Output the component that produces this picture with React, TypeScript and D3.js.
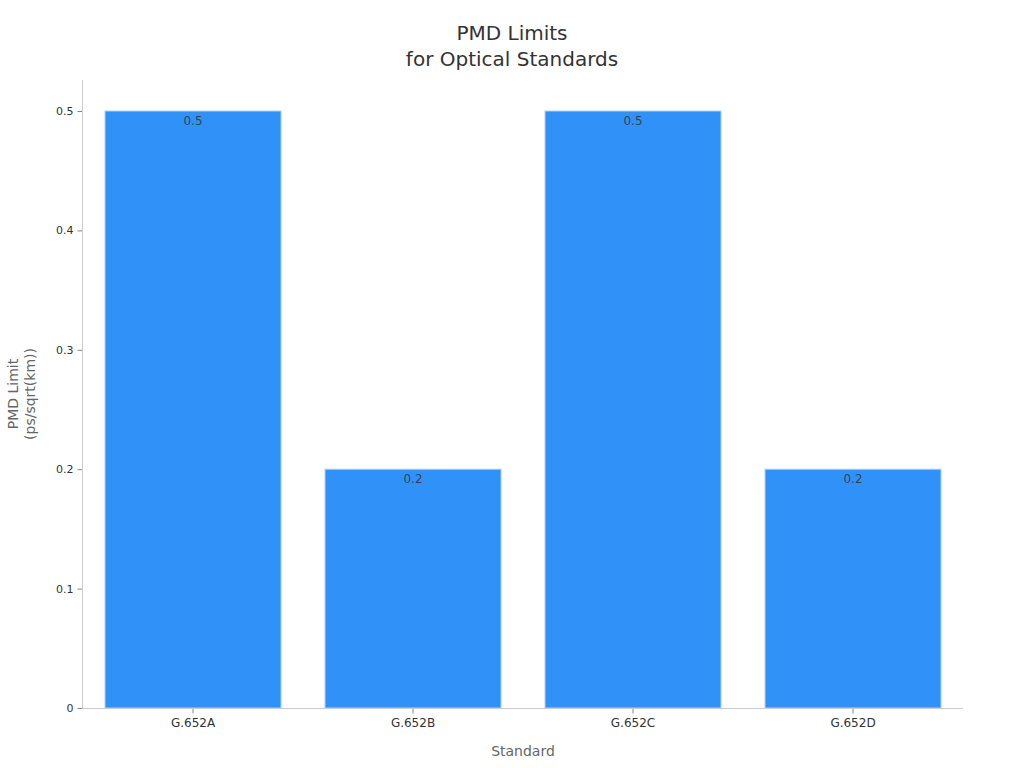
import React, { useEffect, useRef } from 'react';
import * as d3 from 'd3';

const standards = ['G.652A', 'G.652B', 'G.652C', 'G.652D'];
const pmdLimits = [0.5, 0.2, 0.5, 0.2];
const yTicks = [0, 0.1, 0.2, 0.3, 0.4, 0.5];

const WIDTH = 1024;
const HEIGHT = 768;
const margin = { top: 80, right: 61, bottom: 60, left: 83 };
const FONT = '"DejaVu Sans", sans-serif';

const App = () => {
  const svgRef = useRef<SVGSVGElement>(null);

  useEffect(() => {
    if (!svgRef.current) return;
    const svg = d3.select(svgRef.current);
    svg.selectAll('*').remove();

    const x = d3.scaleBand<string>()
      .domain(standards)
      .range([margin.left, WIDTH - margin.right])
      .paddingInner(0.2)
      .paddingOuter(0.1);

    const y = d3.scaleLinear()
      .domain([0, 0.5])
      .range([708, 111]);

    // title
    const title = svg.append('text')
      .attr('x', 512)
      .attr('text-anchor', 'middle')
      .style('font-family', FONT)
      .style('font-size', '20px')
      .attr('fill', '#333');
    title.append('tspan').attr('x', 512).attr('y', 40).text('PMD Limits');
    title.append('tspan').attr('x', 512).attr('y', 66).text('for Optical Standards');

    // bars
    svg.append('g')
      .selectAll('rect')
      .data(pmdLimits)
      .join('rect')
      .attr('x', (_, i) => x(standards[i])!)
      .attr('y', d => y(d))
      .attr('width', x.bandwidth())
      .attr('height', d => y(0) - y(d))
      .attr('fill', '#3092f9')
      .attr('stroke', '#a9d0fb')
      .attr('stroke-width', 1);

    // value labels
    svg.append('g')
      .selectAll('text')
      .data(pmdLimits)
      .join('text')
      .attr('x', (_, i) => x(standards[i])! + x.bandwidth() / 2)
      .attr('y', d => y(d) + 14)
      .attr('text-anchor', 'middle')
      .style('font-family', FONT)
      .style('font-size', '12px')
      .attr('fill', '#333')
      .attr('fill-opacity', 0.85)
      .text(d => String(d));

    // y axis
    const yAxis = svg.append('g')
      .attr('transform', `translate(${margin.left - 0.5},0)`)
      .call(d3.axisLeft(y).tickValues(yTicks).tickSize(5).tickPadding(4).tickFormat(d => String(d)));
    yAxis.select('.domain').remove();
    yAxis.append('line')
      .attr('x1', 0).attr('x2', 0)
      .attr('y1', margin.top).attr('y2', 708)
      .attr('stroke', '#ccc');
    yAxis.selectAll('.tick line').attr('stroke', '#888');
    yAxis.selectAll('.tick text')
      .style('font-family', FONT)
      .style('font-size', '11px')
      .attr('fill', '#333');

    // x axis
    const xAxis = svg.append('g')
      .attr('transform', `translate(0,${708.5})`)
      .call(d3.axisBottom(x).tickSize(5).tickPadding(5));
    xAxis.select('.domain').remove();
    xAxis.append('line')
      .attr('x1', margin.left - 1).attr('x2', WIDTH - margin.right)
      .attr('y1', 0).attr('y2', 0)
      .attr('stroke', '#ccc');
    xAxis.selectAll('.tick line').attr('stroke', '#888');
    xAxis.selectAll('.tick text')
      .style('font-family', FONT)
      .style('font-size', '12px')
      .attr('fill', '#333');

    // axis titles
    svg.append('text')
      .attr('x', (margin.left + WIDTH - margin.right) / 2)
      .attr('y', 756)
      .attr('text-anchor', 'middle')
      .style('font-family', FONT)
      .style('font-size', '14px')
      .attr('fill', '#666')
      .text('Standard');

    const yTitle = svg.append('text')
      .attr('transform', 'rotate(-90)')
      .attr('text-anchor', 'middle')
      .style('font-family', FONT)
      .style('font-size', '14px')
      .attr('fill', '#666');
    yTitle.append('tspan').attr('x', -394).attr('y', 18).text('PMD Limit');
    yTitle.append('tspan').attr('x', -394).attr('y', 35).text('(ps/sqrt(km))');
  }, []);

  return (
    <svg
      ref={svgRef}
      width={WIDTH}
      height={HEIGHT}
      style={{ position: 'absolute', left: 0, top: 0, background: '#fff' }}
    />
  );
};

export default App;
